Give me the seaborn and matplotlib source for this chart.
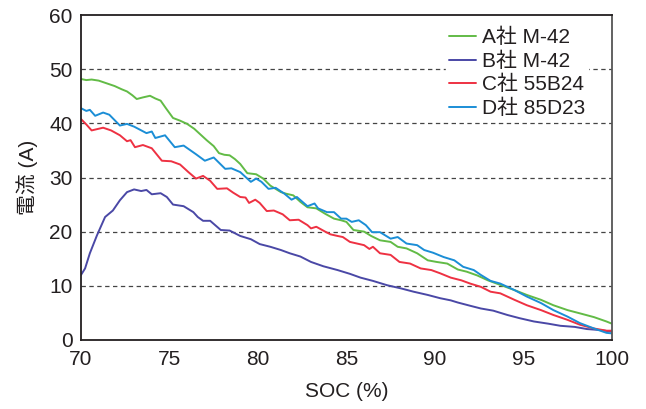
import numpy as np
import pandas as pd
import matplotlib
matplotlib.use('Agg')
import matplotlib.pyplot as plt
import seaborn as sns

# series (SOC %, current A)
a_soc = [70.0, 70.3, 70.6, 71.0, 71.45, 71.9, 72.3, 72.6, 72.9, 73.15, 73.5, 73.9, 74.2, 74.5,
         74.8, 75.2, 75.6, 76.0, 76.4, 76.7, 77.1, 77.5, 77.8, 78.1, 78.4, 78.7, 79.0, 79.4,
         79.9, 80.3, 80.7, 81.3, 81.6, 82.0, 82.4, 82.8, 83.3, 83.8, 84.3, 84.7, 85.0, 85.4,
         86.0, 86.4, 86.9, 87.5, 87.9, 88.4, 89.0, 89.6, 90.1, 90.7, 91.3, 91.8, 92.4, 93.0,
         93.5, 94.0, 94.5, 95.2, 96.0, 96.7, 97.5, 98.2, 99.0, 99.7, 100.0]
a_amp = [48.2, 48.0, 48.1, 47.9, 47.4, 46.9, 46.3, 45.9, 45.2, 44.5, 44.8, 45.1, 44.6, 44.2,
         42.8, 41.0, 40.5, 39.9, 39.0, 38.1, 36.9, 35.8, 34.5, 34.2, 34.1, 33.4, 32.5, 30.8,
         30.6, 29.8, 28.5, 27.3, 27.0, 26.7, 25.5, 24.5, 24.3, 23.3, 22.4, 22.1, 21.8, 20.3,
         20.0, 19.2, 18.4, 18.1, 17.2, 16.9, 16.0, 14.7, 14.4, 14.1, 13.0, 12.6, 11.9, 11.0,
         10.4, 9.8, 9.2, 8.3, 7.4, 6.4, 5.5, 4.9, 4.2, 3.4, 3.0]

b_soc = [70.0, 70.23, 70.5, 70.9, 71.36, 71.8, 72.2, 72.6, 73.0, 73.4, 73.7, 74.0, 74.5, 74.85,
         75.2, 75.8, 76.35, 76.6, 76.9, 77.3, 77.9, 78.4, 79.0, 79.6, 80.1, 80.7, 81.3, 81.8,
         82.4, 83.0, 83.7, 84.5, 85.2, 85.8, 86.5, 87.3, 88.1, 88.8, 89.6, 90.3, 90.9, 91.3,
         92.0, 92.6, 93.3, 94.1, 94.8, 95.6, 96.4, 97.1, 97.9, 98.6, 99.4, 100.0]
b_amp = [12.0, 13.2, 16.0, 19.3, 22.7, 23.9, 25.8, 27.3, 27.8, 27.5, 27.7, 26.9, 27.1, 26.4,
         25.0, 24.7, 23.6, 22.7, 22.0, 22.0, 20.3, 20.2, 19.2, 18.6, 17.7, 17.2, 16.6, 16.0,
         15.4, 14.4, 13.6, 12.9, 12.2, 11.5, 10.9, 10.1, 9.5, 8.9, 8.3, 7.7, 7.3, 6.9,
         6.3, 5.8, 5.4, 4.6, 4.0, 3.4, 3.0, 2.6, 2.4, 2.0, 1.8, 1.5]

c_soc = [70.0, 70.3, 70.6, 71.25, 71.7, 72.2, 72.6, 72.8, 73.05, 73.5, 74.0, 74.57, 75.1, 75.6,
         76.07, 76.5, 76.9, 77.3, 77.7, 78.25, 78.6, 79.0, 79.3, 79.5, 79.85, 80.1, 80.5, 80.9,
         81.4, 81.8, 82.3, 82.8, 83.0, 83.3, 83.8, 84.1, 84.5, 84.8, 85.2, 85.6, 86.0, 86.3,
         86.5, 86.9, 87.5, 88.0, 88.6, 89.2, 89.8, 90.3, 90.9, 91.5, 92.0, 92.6, 93.15, 93.7,
         94.5, 95.2, 96.0, 96.7, 97.5, 98.2, 99.0, 99.7, 100.0]
c_amp = [40.8, 39.8, 38.7, 39.2, 38.7, 37.8, 36.7, 36.9, 35.6, 36.0, 35.4, 33.1, 33.0, 32.4,
         31.0, 29.8, 30.3, 29.4, 27.9, 28.0, 27.2, 26.4, 26.3, 25.3, 25.9, 25.3, 23.8, 23.9,
         23.2, 22.1, 22.2, 21.2, 20.6, 20.9, 20.0, 19.5, 19.2, 19.0, 18.1, 17.8, 17.5, 16.8,
         17.2, 16.0, 15.7, 14.4, 14.1, 13.2, 12.9, 12.3, 11.5, 11.0, 10.4, 9.8, 8.9, 8.6,
         7.4, 6.4, 5.5, 4.6, 3.7, 2.8, 2.1, 1.7, 1.7]

d_soc = [70.0, 70.3, 70.5, 70.8, 71.25, 71.6, 72.2, 72.6, 73.0, 73.7, 74.0, 74.2, 74.75, 75.3,
         75.8, 76.5, 77.0, 77.5, 78.15, 78.5, 79.0, 79.3, 79.6, 79.9, 80.2, 80.6, 81.0, 81.5,
         81.9, 82.2, 82.8, 83.2, 83.4, 83.9, 84.3, 84.7, 85.0, 85.3, 85.7, 86.1, 86.45, 86.9,
         87.5, 87.9, 88.4, 89.0, 89.4, 89.9, 90.5, 91.1, 91.6, 92.2, 92.6, 93.15, 93.7, 94.5,
         95.2, 96.0, 96.7, 97.5, 98.2, 99.0, 99.7, 100.0]
d_amp = [42.8, 42.3, 42.5, 41.4, 42.0, 41.6, 39.6, 39.9, 39.4, 38.2, 38.5, 37.3, 37.8, 35.6,
         35.9, 34.3, 33.1, 33.7, 31.6, 31.7, 31.0, 30.1, 29.2, 29.8, 29.2, 27.9, 28.1, 27.0,
         25.9, 26.4, 24.7, 25.2, 24.3, 23.6, 23.6, 22.4, 22.4, 21.8, 22.1, 21.2, 19.9, 19.9,
         18.7, 19.0, 17.8, 17.5, 16.6, 16.1, 15.3, 14.7, 13.5, 12.9, 12.0, 10.9, 10.4, 9.2,
         8.0, 6.8, 5.5, 4.3, 3.1, 2.1, 1.3, 1.2]

labels = ['A社 M-42', 'B社 M-42', 'C社 55B24', 'D社 85D23']
colors = ['#62bb46', '#4a48a6', '#ee3142', '#1b8ed6']

df = pd.concat([
    pd.DataFrame({'soc': a_soc, 'amp': a_amp, 'maker': labels[0]}),
    pd.DataFrame({'soc': b_soc, 'amp': b_amp, 'maker': labels[1]}),
    pd.DataFrame({'soc': c_soc, 'amp': c_amp, 'maker': labels[2]}),
    pd.DataFrame({'soc': d_soc, 'amp': d_amp, 'maker': labels[3]}),
], ignore_index=True)

sns.set_style('white')
plt.rcParams['font.family'] = ['Liberation Sans', 'Noto Sans CJK JP']

fig, ax = plt.subplots(figsize=(6.46, 4.09), dpi=100)
fig.subplots_adjust(left=0.1254, right=0.947, bottom=0.169, top=0.963)

sns.lineplot(data=df, x='soc', y='amp', hue='maker', hue_order=labels,
             palette=dict(zip(labels, colors)), sort=False, estimator=None,
             linewidth=1.4, ax=ax)

ax.set_xlim(70, 100)
ax.set_ylim(0, 60)
ax.set_xticks(range(70, 101, 5))
ax.set_yticks(range(0, 61, 10))
for yv in range(10, 60, 10):
    ax.axhline(yv, color='#444444', linewidth=0.9, linestyle=(0, (3.5, 2.8)), zorder=0)

for side in ['left', 'bottom', 'top', 'right']:
    ax.spines[side].set_visible(True)
    ax.spines[side].set_color('#231f20')
    ax.spines[side].set_linewidth(1.3)
ax.spines['right'].set_color('#555555')

ax.tick_params(axis='both', direction='out', length=4, width=1, color='#231f20',
               labelsize=15, pad=3, labelcolor='#231f20')
ax.tick_params(axis='y', pad=2)

ax.set_xlabel('SOC (%)', fontsize=15, color='#231f20', labelpad=10)
ax.set_ylabel('電流 (A)', fontsize=15, color='#231f20', labelpad=8)

leg = ax.legend(loc='upper right', bbox_to_anchor=(0.955, 0.97), borderaxespad=0,
                frameon=True, fancybox=False, framealpha=1, edgecolor='white',
                facecolor='white', fontsize=15, handlelength=1.3, handletextpad=0.25,
                labelspacing=0.2, borderpad=0.15)
for t in leg.get_texts():
    t.set_color('#231f20')

plt.savefig('out.png', dpi=100)
